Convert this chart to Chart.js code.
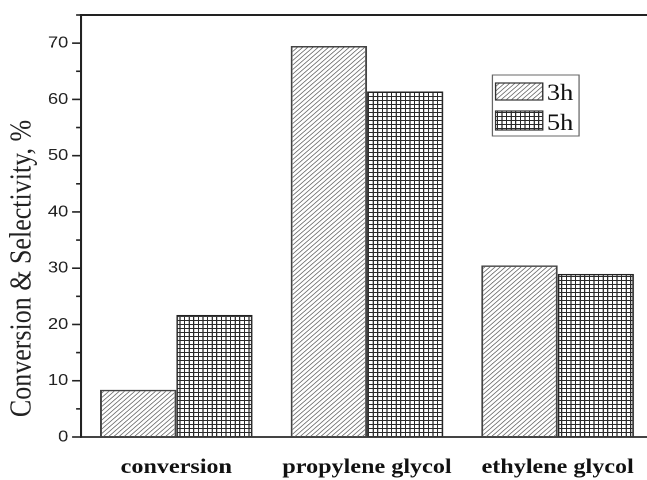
<!DOCTYPE html>
<html>
<head>
<meta charset="utf-8">
<script src="https://cdn.jsdelivr.net/npm/chart.js@4/dist/chart.umd.min.js"></script>
<style>
  html, body { margin: 0; padding: 0; width: 647px; height: 480px; overflow: hidden; background: #fff; }
  #wrap { width: 580px; height: 480px; transform: scaleX(1.15); transform-origin: 0 0; }
</style>
</head>
<body>
<div id="wrap"><canvas id="c" width="580" height="480"></canvas></div>
<script>
// Categories and measured values (%)
const categories = ['conversion', 'propylene glycol', 'ethylene glycol'];
const seriesLabels = ['3h', '5h'];
const values3h = [8.4, 69.5, 30.5];
const values5h = [21.7, 61.4, 29.0];
const yTicksMajor = [0, 10, 20, 30, 40, 50, 60, 70];
const yTitle = 'Conversion & Selectivity, %';

const SERIF = '"Liberation Serif", "Times New Roman", serif';
const SANS = '"Liberation Sans", Arial, sans-serif';

// Fill patterns drawn at double resolution, then scaled back down
function makePattern(size, drawTile) {
  const tile = document.createElement('canvas');
  tile.width = size; tile.height = size;
  const t = tile.getContext('2d');
  drawTile(t, size);
  const p = document.createElement('canvas').getContext('2d').createPattern(tile, 'repeat');
  p.setTransform(new DOMMatrix().scale(0.5, 0.5));
  return p;
}
const hatch = makePattern(9, (t, n) => {
  t.strokeStyle = '#5e5e5e'; t.lineWidth = 1.4;
  t.beginPath();
  for (const o of [-n, 0, n]) {
    t.moveTo(o - 1, n + 1); t.lineTo(o + n + 1, -1);
  }
  t.stroke();
});
const grid = makePattern(8, (t, n) => {
  t.fillStyle = '#fff'; t.fillRect(0, 0, n, n);
  t.fillStyle = '#2a2a2a';
  t.fillRect(0, 0, 2, n);
  t.fillRect(0, 0, n, 2);
});

const frameAndLegend = {
  id: 'frameAndLegend',
  afterDraw(chart) {
    const { ctx, chartArea, scales: { y } } = chart;
    ctx.save();
    // outward tick marks on the value axis
    ctx.strokeStyle = '#222';
    ctx.lineWidth = 1.6;
    y.ticks.forEach(t => {
      const py = y.getPixelForValue(t.value);
      const len = yTicksMajor.includes(t.value) ? 7.8 : 4.3;
      ctx.beginPath();
      ctx.moveTo(chartArea.left - len, py);
      ctx.lineTo(chartArea.left, py);
      ctx.stroke();
    });
    // top frame line
    ctx.lineWidth = 2;
    ctx.beginPath();
    ctx.moveTo(chartArea.left - 1, chartArea.top);
    ctx.lineTo(chartArea.right, chartArea.top);
    ctx.stroke();

    // value axis title
    ctx.save();
    ctx.translate(19.5, 268.5);
    ctx.rotate(-Math.PI / 2);
    ctx.fillStyle = '#222';
    ctx.font = '26px ' + SERIF;
    ctx.textAlign = 'center';
    ctx.textBaseline = 'middle';
    ctx.fillText(yTitle, 0, 0);
    ctx.restore();

    // legend box
    ctx.strokeStyle = '#666';
    ctx.lineWidth = 1;
    ctx.strokeRect(428.1, 75, 75.4, 61);
    const rows = [
      { y: 83, h: 17, base: 100 },
      { y: 111, h: 19, base: 130 }
    ];
    chart.data.datasets.forEach((ds, i) => {
      const r = rows[i];
      ctx.fillStyle = ds.backgroundColor;
      ctx.fillRect(431, r.y, 41, r.h);
      ctx.strokeStyle = '#333';
      ctx.lineWidth = 1.2;
      ctx.strokeRect(431, r.y, 41, r.h);
      ctx.fillStyle = '#111';
      ctx.font = '23px ' + SERIF;
      ctx.textBaseline = 'alphabetic';
      ctx.textAlign = 'left';
      ctx.fillText(ds.label, 475.5, r.base);
    });
    ctx.restore();
  }
};

new Chart(document.getElementById('c'), {
  type: 'bar',
  data: {
    labels: categories,
    datasets: [
      { label: seriesLabels[0], data: values3h, backgroundColor: hatch, borderColor: '#444', borderWidth: 1.5 },
      { label: seriesLabels[1], data: values5h, backgroundColor: grid, borderColor: '#222', borderWidth: 1.5 }
    ]
  },
  options: {
    responsive: false,
    animation: false,
    devicePixelRatio: 2,
    layout: { padding: { top: 15, right: 12.2, bottom: 0, left: 0 } },
    datasets: { bar: { categoryPercentage: 0.8, barPercentage: 1.0 } },
    plugins: { legend: { display: false }, tooltip: { enabled: false } },
    scales: {
      x: {
        grid: { display: false },
        border: { display: true, color: '#444', width: 2 },
        ticks: {
          color: '#111',
          padding: 10,
          maxRotation: 0,
          font: { family: SERIF, size: 21, weight: 'bold' }
        },
        afterFit(s) { s.height = 43; s.paddingLeft = 0; s.paddingRight = 0; }
      },
      y: {
        min: 0,
        max: 75,
        grid: { display: true, drawOnChartArea: false, drawTicks: false },
        border: { display: true, color: '#222', width: 2 },
        ticks: {
          stepSize: 5,
          autoSkip: false,
          padding: 11,
          color: '#222',
          font: { family: SANS, size: 16 },
          callback: v => (yTicksMajor.includes(v) ? String(v) : '')
        },
        title: { display: false },
        afterFit(s) { s.width = 70.4; s.paddingTop = 0; s.paddingBottom = 0; }
      }
    }
  },
  plugins: [frameAndLegend]
});
</script>
</body>
</html>
